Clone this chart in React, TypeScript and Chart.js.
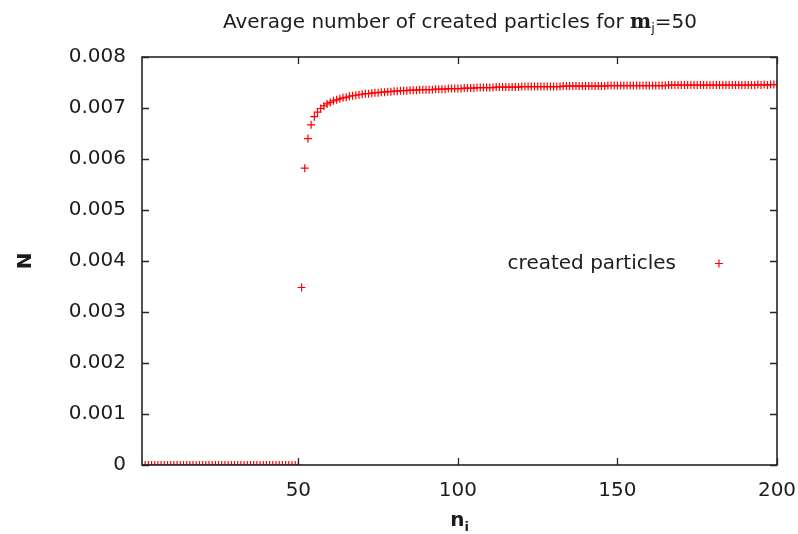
import { useEffect, useRef } from "react";
import { Chart, registerables } from "chart.js";

Chart.register(...registerables);

// n_i runs from FIRST_N upward, one value per integer n_i
const FIRST_N = 1;

const xTickValues = [50, 100, 150, 200];
const yTickValues = [0, 0.001, 0.002, 0.003, 0.004, 0.005, 0.006, 0.007, 0.008];

const titleMain = "Average number of created particles for ";
const titleSymbol = "m";
const titleSub = "j";
const titleTail = "=50";
const xLabelMain = "n";
const xLabelSub = "i";
const yLabel = "N";
const seriesName = "created particles";

// n_i = 1 .. 50
const belowThreshold = [
  0, 0, 0, 0, 0, 0, 0, 0, 0, 0,
  0, 0, 0, 0, 0, 0, 0, 0, 0, 0,
  0, 0, 0, 0, 0, 0, 0, 0, 0, 0,
  0, 0, 0, 0, 0, 0, 0, 0, 0, 0,
  0, 0, 0, 0, 0, 0, 0, 0, 0, 0,
];

// n_i = 51 .. 200
const aboveThreshold = [
  0.00348, 0.00582, 0.0064, 0.00667, 0.00683, 0.00692, 0.00699, 0.00704, 0.00708, 0.00711,
  0.00714, 0.00716, 0.00718, 0.0072, 0.00721, 0.00723, 0.00724, 0.00725, 0.00726, 0.00727,
  0.00728, 0.00728, 0.00729, 0.0073, 0.0073, 0.00731, 0.00731, 0.00732, 0.00732, 0.00733,
  0.00733, 0.00734, 0.00734, 0.00734, 0.00735, 0.00735, 0.00735, 0.00736, 0.00736, 0.00736,
  0.00736, 0.00736, 0.00737, 0.00737, 0.00737, 0.00737, 0.00738, 0.00738, 0.00738, 0.00738,
  0.00738, 0.00739, 0.00739, 0.00739, 0.00739, 0.0074, 0.0074, 0.0074, 0.0074, 0.0074,
  0.0074, 0.00741, 0.00741, 0.00741, 0.00741, 0.00741, 0.00741, 0.00741, 0.00741, 0.00742,
  0.00742, 0.00742, 0.00742, 0.00742, 0.00742, 0.00742, 0.00742, 0.00742, 0.00742, 0.00742,
  0.00742, 0.00742, 0.00743, 0.00743, 0.00743, 0.00743, 0.00743, 0.00743, 0.00743, 0.00743,
  0.00743, 0.00743, 0.00743, 0.00743, 0.00743, 0.00743, 0.00744, 0.00744, 0.00744, 0.00744,
  0.00744, 0.00744, 0.00744, 0.00744, 0.00744, 0.00744, 0.00744, 0.00744, 0.00744, 0.00744,
  0.00744, 0.00744, 0.00744, 0.00744, 0.00744, 0.00745, 0.00745, 0.00745, 0.00745, 0.00745,
  0.00745, 0.00745, 0.00745, 0.00745, 0.00745, 0.00745, 0.00745, 0.00745, 0.00745, 0.00745,
  0.00745, 0.00745, 0.00745, 0.00745, 0.00745, 0.00745, 0.00745, 0.00745, 0.00745, 0.00745,
  0.00745, 0.00745, 0.00745, 0.00746, 0.00745, 0.00746, 0.00745, 0.00746, 0.00746, 0.00746,
];

const SANS = '"DejaVu Sans", "Liberation Sans", Arial, sans-serif';
const SERIF = '"DejaVu Serif", "Liberation Serif", serif';
const TEXT = "#1c1c1c";
const RED = "#ff0000";
const FS = 20;

export default function App() {
  const ref = useRef<HTMLCanvasElement | null>(null);

  useEffect(() => {
    document.body.style.margin = "0";
    const canvas = ref.current;
    if (!canvas) return;

    const values = [...belowThreshold, ...aboveThreshold];
    const points = values.map((v, i) => ({ x: FIRST_N + i, y: v }));

    const deco = {
      id: "deco",
      afterDraw(chart: any) {
        const { ctx, chartArea: a, scales } = chart;
        ctx.save();
        // frame
        ctx.strokeStyle = "#262626";
        ctx.lineWidth = 1.6;
        ctx.strokeRect(a.left, a.top, a.right - a.left, a.bottom - a.top);
        // inward ticks on all sides
        ctx.lineWidth = 1.3;
        ctx.beginPath();
        const tl = 7;
        for (const t of yTickValues) {
          const y = Math.round(scales.y.getPixelForValue(t)) + 0.5;
          ctx.moveTo(a.left, y);
          ctx.lineTo(a.left + tl, y);
          ctx.moveTo(a.right, y);
          ctx.lineTo(a.right - tl, y);
        }
        for (const t of xTickValues) {
          const x = Math.round(scales.x.getPixelForValue(t)) + 0.5;
          ctx.moveTo(x, a.bottom);
          ctx.lineTo(x, a.bottom - tl);
          ctx.moveTo(x, a.top);
          ctx.lineTo(x, a.top + tl);
        }
        ctx.stroke();

        ctx.fillStyle = TEXT;
        ctx.textBaseline = "alphabetic";
        ctx.textAlign = "left";

        // title
        const fMain = `${FS}px ${SANS}`;
        const fSym = `bold ${FS}px ${SERIF}`;
        const fSub = `13px ${SANS}`;
        ctx.font = fMain;
        const w1 = ctx.measureText(titleMain).width;
        const w4 = ctx.measureText(titleTail).width;
        ctx.font = fSym;
        const w2 = ctx.measureText(titleSymbol).width;
        ctx.font = fSub;
        const w3 = ctx.measureText(titleSub).width;
        const total = w1 + w2 + w3 + w4;
        let x = 460 - total / 2;
        const tb = 28;
        ctx.font = fMain;
        ctx.fillText(titleMain, x, tb);
        x += w1;
        ctx.font = fSym;
        ctx.fillText(titleSymbol, x, tb);
        x += w2;
        ctx.font = fSub;
        ctx.fillText(titleSub, x, tb + 4);
        x += w3;
        ctx.font = fMain;
        ctx.fillText(titleTail, x, tb);

        // x axis label
        const fx = `bold ${FS}px ${SANS}`;
        const fxs = `bold 13px ${SANS}`;
        ctx.font = fx;
        const wn = ctx.measureText(xLabelMain).width;
        ctx.font = fxs;
        const wi = ctx.measureText(xLabelSub).width;
        const lx = (a.left + a.right) / 2 - (wn + wi) / 2;
        ctx.font = fx;
        ctx.fillText(xLabelMain, lx, 526);
        ctx.font = fxs;
        ctx.fillText(xLabelSub, lx + wn, 531);

        // y axis label
        ctx.save();
        ctx.translate(31, (a.top + a.bottom) / 2);
        ctx.rotate(-Math.PI / 2);
        ctx.font = `bold ${FS}px ${SANS}`;
        ctx.textAlign = "center";
        ctx.fillText(yLabel, 0, 0);
        ctx.restore();

        // legend
        ctx.font = `${FS}px ${SANS}`;
        ctx.textAlign = "right";
        ctx.textBaseline = "middle";
        ctx.fillText(seriesName, 676, 264);
        ctx.strokeStyle = RED;
        ctx.lineWidth = 1.2;
        ctx.beginPath();
        ctx.moveTo(715, 263.5);
        ctx.lineTo(723, 263.5);
        ctx.moveTo(719, 259.5);
        ctx.lineTo(719, 267.5);
        ctx.stroke();
        ctx.restore();
      },
    };

    const chart = new Chart(canvas, {
      type: "scatter",
      data: {
        datasets: [
          {
            label: seriesName,
            data: points,
            pointStyle: "cross",
            pointRadius: 4,
            pointHoverRadius: 4,
            borderWidth: 1.2,
            borderColor: RED,
            backgroundColor: RED,
          },
        ],
      },
      options: {
        responsive: false,
        animation: false,
        events: [],
        layout: { padding: { top: 57, right: 0, left: 0, bottom: 0 } },
        plugins: {
          legend: { display: false },
          tooltip: { enabled: false },
          title: { display: false },
        },
        scales: {
          x: {
            type: "linear",
            min: FIRST_N,
            max: 200,
            grid: { display: false, drawTicks: false },
            border: { display: false },
            afterBuildTicks: (s: any) => {
              s.ticks = xTickValues.map((v) => ({ value: v }));
            },
            afterFit: (s: any) => {
              s.height = 69;
              s.paddingRight = 21;
              s.paddingLeft = 0;
            },
            ticks: {
              font: { family: SANS, size: FS },
              color: TEXT,
              padding: 14,
              maxRotation: 0,
              autoSkip: false,
            },
          },
          y: {
            type: "linear",
            min: 0,
            max: 0.008,
            grid: { display: false, drawTicks: false },
            border: { display: false },
            afterBuildTicks: (s: any) => {
              s.ticks = yTickValues.map((v) => ({ value: v }));
            },
            afterFit: (s: any) => {
              s.width = 142;
            },
            ticks: {
              font: { family: SANS, size: FS },
              color: TEXT,
              padding: 16,
              autoSkip: false,
              callback: (v: any) => (Number(v) === 0 ? "0" : Number(v).toFixed(3)),
            },
          },
        },
      },
      plugins: [deco],
    });

    return () => chart.destroy();
  }, []);

  return <canvas ref={ref} width={798} height={534} style={{ display: "block" }} />;
}
